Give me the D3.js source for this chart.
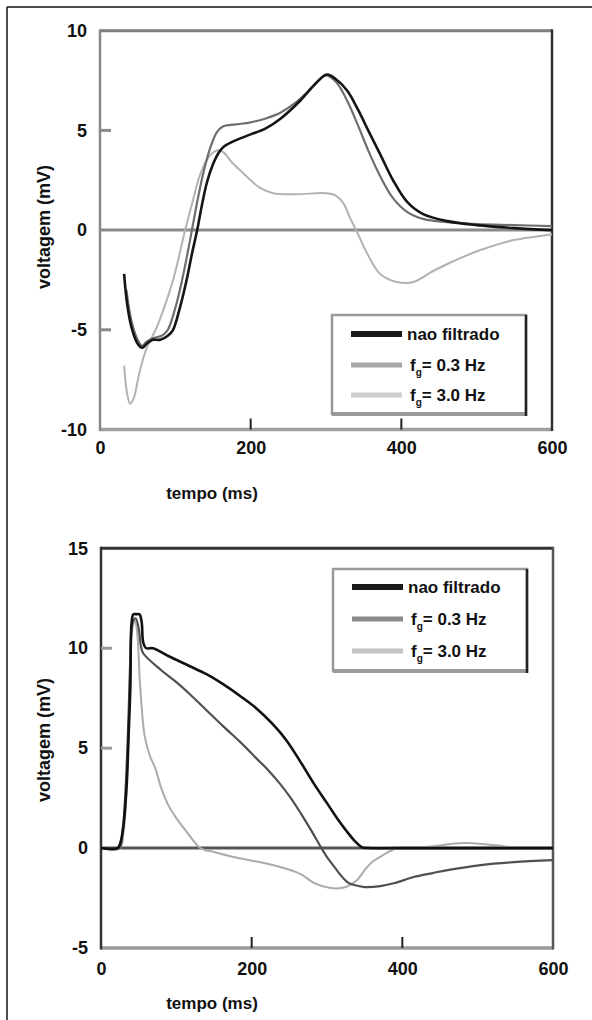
<!DOCTYPE html>
<html>
<head>
<meta charset="utf-8">
<script src="https://cdn.jsdelivr.net/npm/d3@7"></script>
<style>
  body { margin: 0; background: #fff; }
  svg { display: block; }
  text { font-family: "Liberation Sans", Arial, sans-serif; font-weight: bold; fill: #111; }
</style>
</head>
<body>
<svg width="592" height="1020"></svg>
<script>
// ---- data: [tempo (ms), voltagem (mV)] ----
var xTicks = [0, 200, 400, 600];
var yTicksTop = [-10, -5, 0, 5, 10];
var yTicksBottom = [-5, 0, 5, 10, 15];
var legendNames = ["nao filtrado", "0.3 Hz", "3.0 Hz"];

// painel de cima
var topNaoFiltrado = [[32,-2.2],[36,-3.7],[42,-4.9],[50,-5.7],[56,-5.9],[62,-5.7],[70,-5.5],[80,-5.5],[90,-5.3],[97,-5.0],[106,-3.9],[115,-2.5],[122,-1.2],[129,0],[135,1.2],[142,2.4],[150,3.3],[158,3.9],[165,4.2],[180,4.5],[200,4.8],[220,5.1],[240,5.6],[266,6.5],[285,7.3],[301,7.8],[312,7.6],[328,7.0],[343,6.0],[356,5.0],[372,3.8],[389,2.5],[408,1.4],[429,0.8],[461,0.45],[500,0.25],[550,0.1],[600,0.0]];
var topFg03 = [[35,-3.0],[42,-4.6],[50,-5.5],[56,-5.8],[62,-5.6],[72,-5.4],[82,-5.3],[90,-5.0],[100,-3.9],[109,-2.5],[116,-1.2],[122,0],[130,1.6],[138,3.0],[147,4.2],[155,4.9],[163,5.2],[180,5.3],[200,5.4],[220,5.6],[240,5.9],[260,6.4],[280,7.1],[296,7.7],[302,7.75],[314,7.4],[328,6.5],[343,5.2],[356,4.0],[372,2.7],[389,1.6],[408,0.9],[430,0.55],[461,0.4],[500,0.3],[550,0.25],[600,0.2]];
var topFg30 = [[32,-6.8],[36,-8.2],[40,-8.7],[45,-8.4],[52,-7.2],[62,-5.9],[75,-4.9],[86,-3.8],[97,-2.5],[105,-1.3],[113,0],[122,1.3],[133,2.8],[145,3.7],[157,4.0],[164,3.9],[175,3.4],[186,3.0],[200,2.5],[213,2.1],[230,1.85],[260,1.8],[300,1.85],[312,1.75],[323,1.35],[332,0.6],[340,0],[355,-1.2],[372,-2.2],[394,-2.6],[416,-2.6],[440,-2.1],[461,-1.7],[505,-1.0],[549,-0.5],[593,-0.25],[600,-0.22]];

// painel de baixo
var botNaoFiltrado = [[0,0],[22,0],[26,0.3],[30,1.2],[34,3.1],[37,6.0],[39,8.1],[40.5,11.2],[43,11.7],[47,11.7],[51,11.7],[54,11.3],[56,10.3],[60,10.0],[69,10.0],[90,9.6],[118,9.1],[140,8.7],[162,8.2],[185,7.6],[206,7.0],[228,6.2],[246,5.4],[265,4.3],[283,3.2],[300,2.25],[315,1.4],[327,0.8],[337,0.35],[346,0.05],[355,0],[400,0],[600,0]];
var botFg03 = [[0,0],[24,0],[28,0.6],[32,2.5],[36,6.0],[39,9.5],[42,11.3],[46,11.5],[50,11.0],[53,10.1],[56,9.75],[80,8.9],[100,8.3],[118,7.7],[140,6.9],[162,6.1],[185,5.3],[206,4.5],[222,3.9],[238,3.2],[252,2.5],[265,1.75],[278,0.95],[291,0.1],[300,-0.45],[309,-0.9],[318,-1.35],[327,-1.7],[336,-1.85],[350,-1.95],[371,-1.9],[390,-1.75],[415,-1.45],[440,-1.25],[460,-1.1],[504,-0.85],[548,-0.7],[600,-0.6]];
var botFg30 = [[0,0],[25,0],[30,0.8],[35,4.0],[38,8.0],[41,10.8],[45,11.4],[48,10.8],[52,8.1],[58,5.6],[65,4.6],[72,4.0],[80,3.0],[90,2.1],[100,1.5],[110,1.0],[120,0.5],[132,0],[150,-0.2],[176,-0.45],[210,-0.7],[238,-0.95],[265,-1.3],[283,-1.75],[305,-2.0],[325,-1.95],[340,-1.6],[350,-1.1],[360,-0.7],[372,-0.4],[394,0],[430,0.05],[482,0.25],[520,0.15],[560,0],[600,0]];

var svg = d3.select("svg");

// moldura externa
svg.append("line").attr("x1", 7).attr("y1", 7).attr("x2", 592).attr("y2", 7)
    .attr("stroke", "#111").attr("stroke-width", 1.5);
svg.append("line").attr("x1", 7).attr("y1", 7).attr("x2", 7).attr("y2", 1020)
    .attr("stroke", "#111").attr("stroke-width", 1.5);

function panel(cfg) {
    var g = svg.append("g");
    var x = d3.scaleLinear().domain([0, 600]).range([cfg.left, cfg.right]);
    var y = d3.scaleLinear().domain(cfg.yDomain).range([cfg.bottom, cfg.top]);

    // rotulos dos eixos (hifen simples, como no original)
    g.append("g")
        .attr("transform", "translate(" + cfg.left + ",0)")
        .call(d3.axisLeft(y).tickValues(cfg.yTicks).tickFormat(d => String(d)).tickSize(0).tickPadding(13))
        .call(a => a.select(".domain").remove())
        .selectAll("text").style("font-size", "18px").attr("font-family", null);
    g.append("g")
        .attr("transform", "translate(0," + cfg.bottom + ")")
        .call(d3.axisBottom(x).tickValues(xTicks).tickFormat(d => String(d)).tickSize(0).tickPadding(cfg.xPad))
        .call(a => a.select(".domain").remove())
        .selectAll("text").style("font-size", "18px").attr("font-family", null);

    // moldura do grafico
    var f = cfg.frame;
    g.append("line").attr("x1", x(0)).attr("x2", x(600)).attr("y1", y(cfg.yDomain[1])).attr("y2", y(cfg.yDomain[1]))
        .attr("stroke", f.top).attr("stroke-width", 3);
    g.append("line").attr("x1", x(0)).attr("x2", x(600)).attr("y1", y(cfg.yDomain[0])).attr("y2", y(cfg.yDomain[0]))
        .attr("stroke", f.bottom).attr("stroke-width", 3.5);
    g.append("line").attr("x1", x(0)).attr("x2", x(0)).attr("y1", y(cfg.yDomain[1]) - 1.5).attr("y2", y(cfg.yDomain[0]) + 1.5)
        .attr("stroke", f.left).attr("stroke-width", 2.5);
    g.append("line").attr("x1", x(600)).attr("x2", x(600)).attr("y1", y(cfg.yDomain[1]) - 1.5).attr("y2", y(cfg.yDomain[0]) + 1.5)
        .attr("stroke", f.right).attr("stroke-width", 2.5);
    g.append("line").attr("x1", x(0)).attr("x2", x(600)).attr("y1", y(0)).attr("y2", y(0))
        .attr("stroke", f.zero).attr("stroke-width", 3);

    // marcas
    cfg.yMarks.forEach(function(v) {
        g.append("line").attr("x1", x(0)).attr("x2", x(0) + 11).attr("y1", y(v)).attr("y2", y(v))
            .attr("stroke", f.mark).attr("stroke-width", 3);
    });
    [200, 400].forEach(function(v) {
        g.append("line").attr("x1", x(v)).attr("x2", x(v)).attr("y1", y(cfg.yDomain[0])).attr("y2", y(cfg.yDomain[0]) - 11)
            .attr("stroke", "#222").attr("stroke-width", 2);
    });

    // curvas
    var line = d3.line().x(d => x(d[0])).y(d => y(d[1])).curve(d3.curveCatmullRom.alpha(0.5));
    cfg.series.slice().reverse().forEach(function(s) {
        g.append("path").attr("d", line(s.data)).attr("fill", "none")
            .attr("stroke", s.color).attr("stroke-width", s.width).attr("stroke-linejoin", "round");
    });

    // titulos
    g.append("text")
        .attr("transform", "translate(" + cfg.yTitleX + "," + cfg.yTitleY + ") rotate(-90)")
        .attr("text-anchor", "middle").attr("dy", "0.35em")
        .style("font-size", "18px").text("voltagem (mV)");
    g.append("text")
        .attr("x", 212).attr("y", cfg.xTitleY).attr("dy", "0.35em")
        .attr("text-anchor", "middle").style("font-size", "17px").text("tempo (ms)");

    // legenda
    var L = cfg.legend;
    var lg = g.append("g");
    lg.append("rect").attr("x", L.x).attr("y", L.y).attr("width", L.w).attr("height", L.h)
        .attr("fill", "#fff").attr("stroke", "#999").attr("stroke-width", 2.5);
    lg.append("line").attr("x1", L.x).attr("x2", L.x + L.w).attr("y1", L.y + L.h).attr("y2", L.y + L.h)
        .attr("stroke", "#9a9a9a").attr("stroke-width", 4);
    lg.append("line").attr("x1", L.x + L.w).attr("x2", L.x + L.w).attr("y1", L.y).attr("y2", L.y + L.h + 2)
        .attr("stroke", "#222").attr("stroke-width", 2.5);
    cfg.series.forEach(function(s, i) {
        var ry = L.y + L.rows[i];
        lg.append("line").attr("x1", L.x + 19).attr("x2", L.x + 70).attr("y1", ry).attr("y2", ry)
            .attr("stroke", s.legendColor).attr("stroke-width", i === 0 ? 6 : 5);
        var t = lg.append("text").attr("x", L.x + (i === 0 ? 75 : 78)).attr("y", ry).attr("dy", "0.35em")
            .style("font-size", "17px");
        if (i === 0) {
            t.text(legendNames[0]);
        } else {
            t.append("tspan").text("f");
            t.append("tspan").attr("dy", 5).style("font-size", "10px").text("g");
            t.append("tspan").attr("dy", -5).text("= " + legendNames[i]);
        }
    });
}

panel({
    left: 100, right: 552, top: 30.7, bottom: 429.5,
    yDomain: [-10, 10], yTicks: yTicksTop, yMarks: [5, -5], xPad: 12,
    yTitleX: 44, yTitleY: 227, xTitleY: 493,
    frame: { top: "#7d7d7d", bottom: "#a0a0a0", left: "#888", right: "#333", zero: "#8a8a8a", mark: "#8a8a8a" },
    legend: { x: 332, y: 315, w: 194, h: 99, rows: [19, 50, 80] },
    series: [
        { data: topNaoFiltrado, color: "#151515", width: 2.6, legendColor: "#1a1a1a" },
        { data: topFg03, color: "#6e6e6e", width: 2.2, legendColor: "#a8a8a8" },
        { data: topFg30, color: "#b2b2b2", width: 2, legendColor: "#cfcfcf" }
    ]
});

panel({
    left: 101, right: 553, top: 548.3, bottom: 948,
    yDomain: [-5, 15], yTicks: yTicksBottom, yMarks: [10, 5], xPad: 14,
    yTitleX: 44, yTitleY: 740, xTitleY: 1003,
    frame: { top: "#333", bottom: "#9a9a9a", left: "#333", right: "#555", zero: "#555", mark: "#999" },
    legend: { x: 333, y: 569, w: 194, h: 102, rows: [18, 50, 82] },
    series: [
        { data: botNaoFiltrado, color: "#111", width: 2.6, legendColor: "#1a1a1a" },
        { data: botFg03, color: "#505050", width: 2.2, legendColor: "#8a8a8a" },
        { data: botFg30, color: "#ababab", width: 2, legendColor: "#c4c4c4" }
    ]
});
</script>
</body>
</html>
